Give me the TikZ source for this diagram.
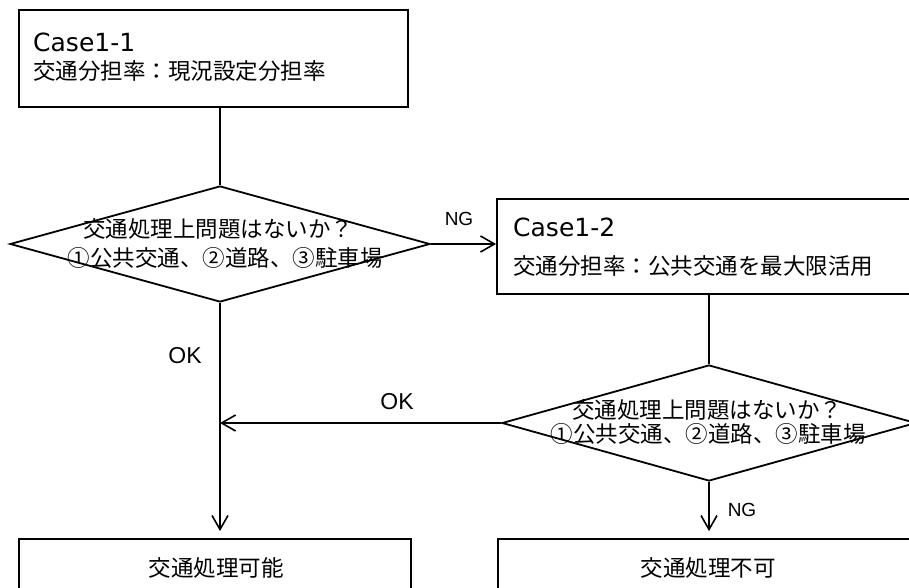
\documentclass[tikz,border=0pt]{standalone}
\usepackage{fontspec}
\setmainfont{Noto Sans CJK JP}
\newfontfamily\latinlbl{Liberation Sans}
\newfontfamily\casefont{DejaVu Sans}
\usetikzlibrary{shapes.geometric,arrows.meta}
\tikzset{
  boxnode/.style={draw=black,line width=1.8pt,rectangle,inner sep=0pt,fill=none},
  decision/.style={draw=black,line width=1.8pt,diamond,inner sep=0pt,shape aspect=1},
  jtext/.style={font=\fontsize{22.5}{27}\selectfont,inner sep=0pt},
  casetext/.style={font=\casefont\fontsize{25}{30}\selectfont,inner sep=0pt},
  lblng/.style={font=\latinlbl\fontsize{19}{22}\selectfont,inner sep=0pt},
  lblok/.style={font=\latinlbl\fontsize{23}{26}\selectfont,inner sep=0pt},
  conn/.style={line width=1.6pt,draw=black},
  arr/.style={conn,-{Straight Barb[length=14pt,width=16pt,line width=1.6pt]}},
}
\begin{document}
\begin{tikzpicture}[x=1pt,y=-1pt]
\useasboundingbox (0,0) rectangle (909,588);
% boxes
\node[boxnode,minimum width=389pt,minimum height=97pt] (b1) at (213.5,58.5) {};
\node[boxnode,minimum width=424pt,minimum height=95pt] (b2) at (709,246.5) {};
\node[boxnode,minimum width=392pt,minimum height=80pt] (e1) at (215,579) {};
\node[boxnode,minimum width=422pt,minimum height=80pt] (e2) at (709,579) {};
% diamonds
\node[decision,minimum width=420pt,minimum height=116pt] (d1) at (220,244) {};
\node[decision,minimum width=414pt,minimum height=116pt] (d2) at (709,423) {};
% texts
\node[casetext,anchor=west] (t1a) at (33,42) {Case1-1};
\node[jtext,anchor=west] (t1b) at (33,71) {交通分担率：現況設定分担率};
\node[casetext,anchor=west] (t2a) at (513,227) {Case1-2};
\node[jtext,anchor=west] (t2b) at (513,266) {交通分担率：公共交通を最大限活用};
\node[jtext] (q1a) at (218,229) {交通処理上問題はないか？};
\node[jtext] (q1b) at (225,258) {①公共交通、②道路、③駐車場};
\node[jtext] (q2a) at (707,410) {交通処理上問題はないか？};
\node[jtext] (q2b) at (708,434) {①公共交通、②道路、③駐車場};
\node[jtext] (e1t) at (216,568) {交通処理可能};
\node[jtext] (e2t) at (708,568) {交通処理不可};
% labels
\node[lblng] (ng1) at (459,219) {NG};
\node[lblok] (ok1) at (185,356) {OK};
\node[lblok] (ok2) at (397,402) {OK};
\node[lblng] (ng2) at (742,510) {NG};
% connectors
\draw[conn] (b1.south -| d1.north) -- (d1.north);
\draw[arr] (d1.east) -- (b2.west |- d1.east);
\draw[conn] (b2.south -| d2.north) -- (d2.north);
\coordinate (j1) at (d1.south |- d2.west);
\draw[arr] (d2.west) -- (j1);
\draw[arr,shorten >=7pt] (d1.south) -- (e1.north -| d1.south);
\draw[arr,shorten >=7pt] (d2.south) -- (e2.north -| d2.south);
\end{tikzpicture}
\end{document}
